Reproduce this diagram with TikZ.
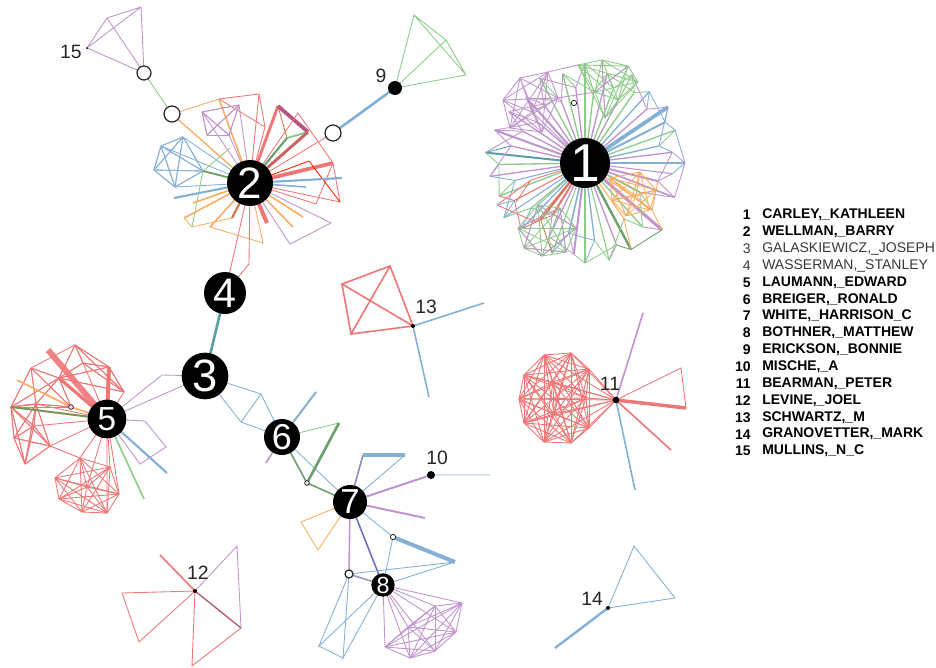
\documentclass[tikz,border=0pt]{standalone}
\usepackage{fontspec}
\newfontfamily\arial{Liberation Sans}
\usetikzlibrary{calc}
\definecolor{ered}{RGB}{238,118,118}
\definecolor{eblue}{RGB}{132,176,214}
\definecolor{egreen}{RGB}{140,204,136}
\definecolor{epurple}{RGB}{192,148,204}
\definecolor{eorange}{RGB}{250,172,96}
\definecolor{eteal}{RGB}{92,160,168}
\definecolor{edgreen}{RGB}{108,160,108}
\definecolor{ebrown}{RGB}{200,120,70}
\definecolor{emaroon}{RGB}{178,86,128}
\definecolor{eolive}{RGB}{128,148,84}
\definecolor{eindigo}{RGB}{112,112,184}
\definecolor{legendgray}{RGB}{55,55,55}
\tikzset{
  hub/.style={circle,fill=black,inner sep=0pt},
  hubnum/.style={text=white,inner sep=0pt},
  blackdot/.style={circle,fill=black,inner sep=0pt,minimum size=#1},
  opendot/.style={circle,draw=black!85,fill=white,line width=0.9pt,inner sep=0pt,minimum size=#1},
  tag/.style={font=\arial\fontsize{14.5}{16}\selectfont,text=black!85,inner sep=0pt},
  legnum/.style={anchor=east,inner sep=0pt},
  legname/.style={anchor=west,inner sep=0pt},
  legb/.style={font=\arial\bfseries\fontsize{10.5}{12}\selectfont,text=black},
  legn/.style={font=\arial\fontsize{10.5}{12}\selectfont,text=legendgray},
  lk/.style={line width=0.65pt},
}
\begin{document}
\begin{tikzpicture}[x=0.75pt,y=-0.75pt]
\useasboundingbox (0,0) rectangle (936,668);
% hubs and open points
\coordinate (n1) at (585,163);
\coordinate (n2) at (250,183);
\coordinate (n3) at (205,376);
\coordinate (n4) at (225,293);
\coordinate (n5) at (107,419);
\coordinate (n6) at (282,437);
\coordinate (n7) at (350,502);
\coordinate (n8) at (383,585);
\coordinate (n9) at (395,88);
\coordinate (n10) at (431,475);
\coordinate (n11) at (616,400);
\coordinate (n12) at (195,591);
\coordinate (n13) at (413,326);
\coordinate (n14) at (608,608);
\coordinate (n15) at (87,48);
\coordinate (o1) at (144,73);
\coordinate (o2) at (172,114);
\coordinate (o3) at (333,133);
\coordinate (o4) at (349,574);
\coordinate (o5) at (71,407);
\coordinate (o6) at (393,537);
\coordinate (o7) at (307,483);
\coordinate (o8) at (574,103);

% cluster 1
\foreach \a/\r/\c/\w [count=\i] in {0/100/eblue/1.2, 7/88/epurple/0.8,
  14/75/epurple/1.5, 21/96/epurple/1.2, 28/62/egreen/1.5, 35/82/eorange/0.8,
  41/102/epurple/2.2, 48/86/egreen/1, 55/68/eorange/0.8, 62/98/edgreen/1.8,
  69/88/epurple/1, 76/100/egreen/0.8, 83/78/eblue/1, 90/100/egreen/1,
  97/92/epurple/1.5, 103/72/eblue/1.2, 110/96/egreen/0.8, 116/82/epurple/1,
  122/62/ered/1.5, 128/72/ebrown/1.5, 134/92/eblue/1, 140/70/egreen/1,
  146/98/eblue/0.8, 152/80/ered/0.8, 159/92/egreen/1, 166/72/eblue/0.8,
  172/96/epurple/1, 179/86/egreen/1, 186/100/eteal/1.5, 193/76/epurple/1,
  200/96/epurple/1.5, 207/70/epurple/1, 214/92/epurple/1, 221/62/epurple/1,
  228/88/epurple/1.5, 235/72/epurple/1, 242/96/egreen/1, 249/66/epurple/1,
  256/92/egreen/1, 263/76/epurple/1, 270/100/egreen/1, 277/72/egreen/1,
  284/92/epurple/1, 291/80/egreen/1, 298/100/egreen/0.8, 305/86/egreen/1,
  312/96/eblue/1, 319/82/epurple/1, 326/100/eblue/2.8, 333/90/eblue/1.5,
  340/96/egreen/1, 347/76/eblue/1, 353/88/epurple/1}{
  \coordinate (s\i) at ($(n1)+(\a:\r)$);
  \draw[draw=\c,line width=\w pt] (n1) -- (s\i);
  \expandafter\xdef\csname rimcol\i\endcsname{\c}
}
\foreach \i in {1,...,53}{
  \pgfmathtruncatemacro\j{mod(\i,53)+1}
  \pgfmathtruncatemacro\k{mod(\i+2,53)+1}
  \edef\ca{\csname rimcol\i\endcsname}
  \edef\cb{\csname rimcol\k\endcsname}
  \draw[lk,draw=\ca] (s\i) -- (s\j);
  \ifodd\i \draw[lk,draw=\cb] (s\i) -- (s\k); \fi
}
\foreach \x/\y [count=\i] in {503/100,520/78,548/72,558/98,532/112,510/128,542/132}
  \coordinate (w\i) at (\x,\y);
\foreach \x/\y [count=\i] in {578/65,602/60,628/66,638/82,618/100,595/92,605/118}
  \coordinate (g\i) at (\x,\y);
\foreach \x/\y [count=\i] in {610/178,640/172,656/190,650/210,626/216,612/200,636/196}
  \coordinate (q\i) at (\x,\y);
\foreach \x/\y [count=\i] in {518/228,538/205,560/208,576/228,566/252,542/256,524/248}
  \coordinate (l\i) at (\x,\y);
\foreach \i in {1,...,7}{\foreach \j in {\i,...,7}{
  \draw[lk,epurple] (w\i) -- (w\j);
  \draw[lk,egreen] (g\i) -- (g\j);
  \draw[lk,eorange] (q\i) -- (q\j);
  \draw[lk,egreen] (l\i) -- (l\j);
}}
\draw[lk,epurple] (l1) -- (l3) -- (l5) -- (l7) -- (l2) -- (l4) -- (l6) -- (l1);
\draw[lk,epurple] (g1) -- (w3) (g6) -- (w4) (g5) -- (n1) (w5) -- (n1) (g2) -- (g7) (g3) -- (g6);
\coordinate (r1) at (497,205);
\coordinate (r2) at (531,180);
\coordinate (r3) at (516,202);
\coordinate (r4) at (536,222);
\draw[lk,ered] (r1) -- (r2) -- (n1) (r1) -- (r4) -- (n1) (r3) -- (r2);
\draw[lk,eblue] (r1) -- (s24) (l2) -- (n1);

% cluster 2
\foreach \x/\y [count=\i] in {219/99,259/94,265/127,239/105,202/112,207/135,229/135,
  278/106,298/113,308/132,333/163,340/202,316/204,309/161,183/137,161/146,154/170,
  175/187,203/171,230/148,342/178,306/187,174/198,193/203,184/218,192/227,210/227,
  232/218,263/243,293/227,303/217,290/244,331/223,267/223,249/264,287/138}
  \coordinate (b\i) at (\x,\y);
\draw[lk,ered] (b1) -- (b2) -- (n2) (b1) -- (b3) -- (n2) (b2) -- (b3);
\draw[line width=1.2pt,eorange] (b1) -- (n2);
\foreach \p in {b4,b5,b6,b7}{\foreach \q in {b4,b5,b6,b7}{\draw[lk,epurple] (\p) -- (\q);}}
\draw[lk,epurple] (b4) -- (n2) (b5) -- (n2) (b7) -- (n2);
\draw[line width=2.2pt,ered] (b8) -- (n2);
\draw[line width=2.8pt,emaroon] (b8) -- (b10);
\draw[lk,ebrown] (b8) -- (b36);
\draw[line width=1.4pt,egreen] (b36) -- (b10);
\draw[line width=1.6pt,edgreen] (b36) -- (n2);
\draw[line width=2.2pt,ered!85!black] (b10) -- (n2);
\draw[lk,ered] (b9) -- (b11) -- (b12) -- (n2) (b9) -- (n2) (b13) -- (b11) (b13) -- (n2);
\draw[line width=2.8pt,ered] (b11) -- (n2);
\draw[lk,red!75!orange] (b14) -- (b12) (b14) -- (n2);
\foreach \p in {b15,b16,b17,b18,b19}{\foreach \q in {b15,b16,b17,b18,b19}{\draw[lk,eblue] (\p) -- (\q);}}
\draw[lk,eblue] (b18) -- (n2) (b16) -- (n2) (b15) -- (n2);
\draw[lk,egreen] (b19) -- (b20) (b19) -- (b26);
\draw[line width=1.4pt,edgreen] (b19) -- (n2);
\draw[line width=1.6pt,eblue] (n2) -- (b21) (n2) -- (b23);
\draw[line width=1.2pt,eblue] (n2) -- (b22);
\draw[line width=1.2pt,eorange] (n2) -- (b24) (n2) -- (b25) (n2) -- (b27) (n2) -- (b30) (n2) -- (b31);
\draw[lk,eorange] (b25) -- (b26) (b27) -- (b29) -- (n2) (b26) -- (b28);
\draw[line width=1.6pt,ebrown] (b28) -- (n2);
\draw[lk,epurple] (n2) -- (b32) -- (b33) -- (n2);
\draw[line width=3pt,ered] (n2) -- (b34);
\draw[lk,ered] (o3) -- (n2) (n2) -- (b35) -- (n4) (n2) -- (n4);

% cluster 15 and 9
\coordinate (f1) at (107,18);
\coordinate (f2) at (141,7);
\draw[lk,epurple] (n15) -- (f1) -- (f2) -- (o1) -- (n15) -- (f2) (f1) -- (o1);
\draw[lk,egreen] (o1) -- (o2);
\draw[lk,eorange] (o2) -- (b1);
\draw[line width=1pt,eorange] (o2) -- (n2);
\draw[line width=2pt,eblue] (o3) -- (n9);
\coordinate (t1) at (414,15);
\coordinate (t2) at (446,40);
\coordinate (t3) at (466,75);
\draw[lk,egreen] (n9) -- (t1) -- (t2) -- (t3) -- (n9) -- (t2) (t1) -- (t3);

% chain 4-3-6-7-8
\draw[line width=2pt,eteal] (n4) -- (n3);
\coordinate (m1) at (261,394);
\coordinate (m2) at (241,422);
\coordinate (m3) at (316,392);
\coordinate (m4) at (339,423);
\coordinate (m5) at (266,463);
\draw[lk,eblue] (n3) -- (m1) -- (n6) -- (m2) -- (n3) (m1) -- (m2) (n6) -- (n7);
\draw[line width=1.5pt,eblue] (n6) -- (m3);
\draw[lk,egreen] (n6) -- (m4);
\draw[line width=2pt,edgreen] (m4) -- (o7);
\draw[line width=1.2pt,edgreen] (n6) -- (o7) -- (n7);
\draw[line width=1.2pt,epurple] (n6) -- (m5);
\coordinate (p1) at (363,455);
\coordinate (p2) at (405,455);
\coordinate (p3) at (490,475);
\coordinate (p4) at (425,518);
\coordinate (p5) at (301,522);
\coordinate (p6) at (318,550);
\coordinate (p7) at (455,562);
\coordinate (p8) at (319,646);
\coordinate (p9) at (343,658);
\draw[line width=1.2pt,eindigo!80!white] (n7) -- (p1);
\draw[line width=2.5pt,eblue] (p1) -- (p2);
\draw[lk,eblue] (p2) -- (n7) (n10) -- (p3) (n7) -- (o6);
\draw[line width=1.5pt,epurple] (n7) -- (n10) (n7) -- (p4);
\draw[lk,eorange] (n7) -- (p5) -- (p6) -- (n7);
\draw[line width=3pt,eblue] (o6) -- (p7);
\draw[line width=1.2pt,epurple] (n7) -- (o4);
\draw[line width=1.2pt,eindigo] (n7) -- (n8);
\draw[line width=1.2pt,eindigo!70!white] (o4) -- (n8);
\draw[lk,eblue] (o4) -- (p7) -- (n8) -- (o6) (o4) -- (p8) -- (n8) -- (p9) -- (o4) (p8) -- (p9);
\foreach \x/\y [count=\i] in {435/606,462/603,456/632,435/651,410/658,385/647,408/627}
  \coordinate (e\i) at (\x,\y);
\coordinate (e8) at (n8);
\foreach \i in {1,...,8}{\foreach \j in {\i,...,8}{\draw[lk,epurple] (e\i) -- (e\j);}}

% cluster 5
\foreach \x/\y [count=\i] in {48/350,75/345,83/363,109/367,124/392,59/378,31/368,
  11/407,36/404,14/438,25/464,50/446,34/426,17/380,145/421,166/447,140/464,
  167/473,144/499,162/375}
  \coordinate (c\i) at (\x,\y);
\foreach \x/\y [count=\i] in {80/458,55/478,59/499,82/512,107/513,119/494,110/467,87/487}
  \coordinate (d\i) at (\x,\y);
\foreach \p in {c2,c3,c4,c5,c6}{\foreach \q in {c2,c3,c4,c5,c6}{\draw[lk,ered] (\p) -- (\q);}}
\foreach \p in {c6,c7,c8,c9,o5}{\foreach \q in {c6,c7,c8,c9,o5}{\draw[lk,ered] (\p) -- (\q);}}
\foreach \p in {c8,c9,c10,c11,c12,c13}{\foreach \q in {c8,c9,c10,c11,c12,c13}{\draw[lk,ered] (\p) -- (\q);}}
\foreach \i in {1,...,8}{\foreach \j in {\i,...,8}{\draw[lk,ered] (d\i) -- (d\j);}}
\draw[lk,ered] (c2) -- (c7) (c3) -- (n5) (c5) -- (n5) (c9) -- (n5) (c12) -- (n5) (c13) -- (n5)
  (c12) -- (d1) (d1) -- (n5) (d7) -- (n5) (d6) -- (n5) (d5) -- (n5) (d8) -- (n5);
\draw[line width=4.5pt,ered,opacity=0.9] (c1) -- (n5);
\draw[line width=3pt,ered] (c4) -- (n5);
\draw[line width=2.4pt,ered] (c6) -- (n5);
\draw[line width=1.2pt,eorange] (c14) -- (o5) -- (n5);
\draw[line width=1.5pt,eolive] (c8) -- (n5);
\draw[lk,epurple] (n5) -- (c15) -- (c16) -- (c17) -- (n5);
\draw[line width=1.6pt,eblue] (n5) -- (c18);
\draw[line width=1.2pt,egreen] (n5) -- (c19);
\draw[lk,epurple] (n3) -- (c20) -- (n5) (n3) -- (n5);

% cluster 11
\foreach \x/\y [count=\i] in {544/355,571/353,589/369,524/375,519/399,524/423,
  544/442,571/443,589/428,586/398,553/382,554/414}
  \coordinate (k\i) at (\x,\y);
\foreach \i in {1,...,12}{
  \draw[lk,ered] (k\i) -- (n11);
  \foreach \j in {\i,...,12}{\draw[lk,ered] (k\i) -- (k\j);}
}
\coordinate (u1) at (643,313);
\coordinate (u2) at (681,368);
\coordinate (u3) at (686,408);
\coordinate (u4) at (671,450);
\coordinate (u5) at (635,490);
\draw[line width=1.2pt,epurple] (n11) -- (u1);
\draw[lk,ered] (n11) -- (u2) -- (u3);
\draw[line width=2.6pt,ered] (n11) -- (u3);
\draw[line width=1.2pt,ered] (n11) -- (u4);
\draw[line width=1.2pt,eblue] (n11) -- (u5);

% cluster 12, 13, 14
\coordinate (v1) at (160,555);
\coordinate (v2) at (122,593);
\coordinate (v3) at (139,642);
\coordinate (v4) at (237,546);
\coordinate (v5) at (241,628);
\coordinate (v6) at (192,666);
\draw[line width=1.2pt,ered] (n12) -- (v1);
\draw[lk,ered] (n12) -- (v2) -- (v3) -- (n12) (n12) -- (v6) -- (v5);
\draw[lk,epurple] (n12) -- (v4) -- (v5);
\draw[line width=1pt,emaroon] (n12) -- (v5);
\coordinate (x1) at (342,284);
\coordinate (x2) at (390,266);
\coordinate (x3) at (351,334);
\draw[line width=1.2pt,ered] (n13) -- (x1) -- (x2) -- (n13) -- (x3) -- (x1) (x2) -- (x3);
\coordinate (x4) at (484,303);
\coordinate (x5) at (429,397);
\draw[line width=1.2pt,eblue] (n13) -- (x4) (n13) -- (x5);
\coordinate (y1) at (634,546);
\coordinate (y2) at (675,598);
\coordinate (y3) at (555,648);
\draw[lk,eblue] (n14) -- (y1) -- (y2) -- (n14);
\draw[line width=1.8pt,eblue] (n14) -- (y3);

% hubs on top
\node[hub,minimum size=37.5pt] (h1) at (n1) {};
\node[hubnum,font=\arial\fontsize{40}{40}\selectfont] (num1) at (n1) {1};
\node[hub,minimum size=34.5pt] (h2) at (n2) {};
\node[hubnum,font=\arial\fontsize{33}{33}\selectfont] (num2) at (n2) {2};
\node[hub,minimum size=35pt] (h3) at (n3) {};
\node[hubnum,font=\arial\fontsize{34}{34}\selectfont] (num3) at (n3) {3};
\node[hub,minimum size=31.5pt] (h4) at (n4) {};
\node[hubnum,font=\arial\fontsize{31}{31}\selectfont] (num4) at (n4) {4};
\node[hub,minimum size=29pt] (h5) at (n5) {};
\node[hubnum,font=\arial\fontsize{25}{25}\selectfont] (num5) at (n5) {5};
\node[hub,minimum size=27pt] (h6) at (n6) {};
\node[hubnum,font=\arial\fontsize{27}{27}\selectfont] (num6) at (n6) {6};
\node[hub,minimum size=25.5pt] (h7) at (n7) {};
\node[hubnum,font=\arial\fontsize{26}{26}\selectfont] (num7) at (n7) {7};
\node[hub,minimum size=17.5pt] (h8) at (n8) {};
\node[hubnum,font=\arial\fontsize{17.5}{17.5}\selectfont] (num8) at (n8) {8};
\node[blackdot=10.5pt] (h9) at (n9) {};
\node[blackdot=6pt] (h10) at (n10) {};
\node[blackdot=5pt] (h11) at (n11) {};
\node[blackdot=3pt] (h12) at (n12) {};
\node[blackdot=3pt] (h13) at (n13) {};
\node[blackdot=3pt] (h14) at (n14) {};
\node[blackdot=1.5pt] (h15) at (n15) {};
\node[opendot=10.5pt] (ho1) at (o1) {};
\node[opendot=12pt] (ho2) at (o2) {};
\node[opendot=12pt] (ho3) at (o3) {};
\node[opendot=6pt] (ho4) at (o4) {};
\node[opendot=3.5pt,line width=0.6pt] (ho5) at (o5) {};
\node[opendot=4pt,line width=0.6pt] (ho6) at (o6) {};
\node[opendot=3.5pt,line width=0.6pt] (ho7) at (o7) {};
\node[opendot=4pt,line width=0.6pt] (ho8) at (o8) {};
\node[tag] (lab9) at (381,76) {9};
\node[tag] (lab10) at (437,458) {10};
\node[tag] (lab11) at (610,384) {11};
\node[tag] (lab12) at (198,573) {12};
\node[tag] (lab13) at (426,307) {13};
\node[tag] (lab14) at (592,599) {14};
\node[tag] (lab15) at (71,52) {15};

% legend
\foreach \name/\s [count=\i] in {{CARLEY,\_KATHLEEN}/legb, {WELLMAN,\_BARRY}/legb,
  {GALASKIEWICZ,\_JOSEPH}/legn, {WASSERMAN,\_STANLEY}/legn, {LAUMANN,\_EDWARD}/legb,
  {BREIGER,\_RONALD}/legb, {WHITE,\_HARRISON\_C}/legb, {BOTHNER,\_MATTHEW}/legb,
  {ERICKSON,\_BONNIE}/legb, {MISCHE,\_A}/legb, {BEARMAN,\_PETER}/legb,
  {LEVINE,\_JOEL}/legb, {SCHWARTZ,\_M}/legb, {GRANOVETTER,\_MARK}/legb,
  {MULLINS,\_N\_C}/legb}{
  \node[legnum,\s] (ln\i) at (751,{215+16.86*(\i-1)}) {\i};
  \node[legname,\s] (lt\i) at (762,{215+16.86*(\i-1)}) {\name};
}
\end{tikzpicture}
\end{document}
